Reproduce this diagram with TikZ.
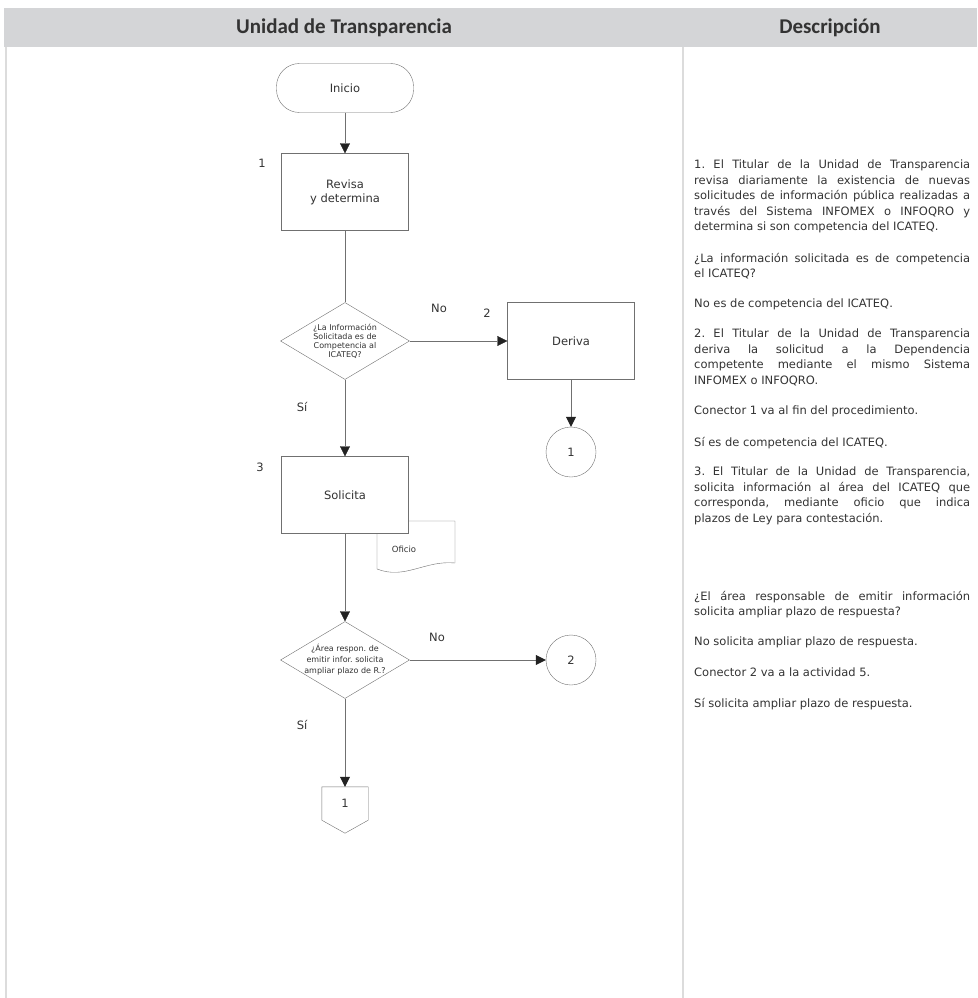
\documentclass[tikz,border=0pt]{standalone}
\usepackage{fontspec}
\setmainfont{DejaVu Sans}
\newfontfamily\headfont{Carlito}
\usetikzlibrary{shapes.geometric,arrows.meta,calc}
\frenchspacing
\definecolor{lineg}{HTML}{707070}
\definecolor{tipc}{HTML}{222222}
\definecolor{txt}{HTML}{333333}
\definecolor{hdr}{HTML}{D4D5D7}
\definecolor{rulec}{HTML}{DCDCDC}
\newcommand\procfont{\fontsize{11.5}{14}\selectfont}
\newcommand\decfont{\fontsize{8}{9}\selectfont}
\newcommand\descfont{\fontsize{11.5}{15.5}\selectfont\tolerance=10000\hyphenpenalty=10000\hbadness=10000}
\tikzset{
  head/.style={font=\headfont\bfseries\fontsize{21}{24}\selectfont, text=txt},
  proc/.style={draw=lineg, fill=white, minimum width=127pt, minimum height=77pt, align=center, font=\procfont, text=txt},
  term/.style={proc, rounded corners=23pt, minimum width=137pt, minimum height=49pt},
  dec/.style={diamond, draw=lineg, fill=white, minimum width=129pt, minimum height=77pt, inner sep=-8pt, shape aspect=1.675, align=center, font=\decfont, text=txt},
  conn/.style={circle, draw=lineg, minimum size=50pt, inner sep=0pt, font=\procfont, text=txt},
  num/.style={font=\procfont, text=txt},
  flow/.style={draw=lineg, -{Triangle[width=10pt,length=10pt,color=tipc]}},
  desc/.style={anchor=north west, inner sep=0pt, text width=276pt, align=justify, font=\descfont, text=txt},
}
\begin{document}
\begin{tikzpicture}[x=1pt,y=-1pt]
\useasboundingbox (0,0) rectangle (977,998);
% table
\fill[hdr] (4,8) rectangle (977,47);
\draw[rulec, line width=1.5pt] (6,47) -- (6,998);
\draw[rulec, line width=1.5pt] (683,47) -- (683,998);
\node[head] (hleft) at (344,28) {Unidad de Transparencia};
\node[head] (hright) at (830,28) {Descripción};

% flujo
\node[term] (inicio) at (345,88) {Inicio};
\node[proc] (revisa) at (345,192) {Revisa\\y determina};
\node[num] (n1) at (262,163) {1};
\node[dec] (dec1) at (345,341) {¿La Información\\Solicitada es de\\Competencia al\\ICATEQ?};
\node[proc] (deriva) at (571,341) {Deriva};
\node[num] (n2) at (487,313) {2};
\node[num] (no1) at (439,308) {No};
\node[conn] (c1) at (571,452) {1};
\node[num] (si1) at (302,407) {Sí};
\node[num] (n3) at (260,467) {3};
\draw[lineg, fill=white] (377,521) -- (455,521) -- (455,563) .. controls (425,560) and (405,580) .. (377,569) -- cycle;
\node[font=\fontsize{8.5}{10}\selectfont, text=txt] (oficio) at (404,549) {Oficio};
\node[proc] (solicita) at (345,495) {Solicita};
\node[dec, font=\fontsize{8}{11}\selectfont] (dec2) at (345,660) {¿Área respon. de\\emitir infor. solicita\\ampliar plazo de R.?};
\node[num] (no2) at (437,637) {No};
\node[conn] (c2) at (571,660) {2};
\node[num] (si2) at (302,725) {Sí};
\node[minimum width=46pt, minimum height=33pt, inner sep=0pt, font=\procfont, text=txt] (off1) at (345,803.5) {1};
\draw[lineg] (off1.north west) -- (off1.north east) -- (off1.south east) -- ($(off1.south)+(0,13)$) -- (off1.south west) -- cycle;

\draw[flow] (inicio) -- (revisa);
\draw[lineg] (revisa) -- (dec1);
\draw[flow] (dec1) -- (deriva);
\draw[flow] (deriva) -- (c1);
\draw[flow] (dec1) -- (solicita);
\draw[flow] (solicita) -- (dec2);
\draw[flow] (dec2) -- (c2);
\draw[flow] (dec2) -- (off1);

% descripcion
\node[desc] (d1) at (694,160) {1. El Titular de la Unidad de Transparencia\linebreak revisa diariamente la existencia de nuevas\linebreak solicitudes de información pública realizadas a\linebreak través del Sistema INFOMEX o INFOQRO y\linebreak determina si son competencia del ICATEQ.};
\node[desc] (d2) at (694,253) {¿La información solicitada es de competencia\linebreak el ICATEQ?};
\node[desc] (d3) at (694,299) {No es de competencia del ICATEQ.};
\node[desc] (d4) at (694,329) {2. El Titular de la Unidad de Transparencia\linebreak deriva la solicitud a la Dependencia\linebreak competente mediante el mismo Sistema\linebreak INFOMEX o INFOQRO.};
\node[desc] (d5) at (694,406) {Conector 1 va al fin del procedimiento.};
\node[desc] (d6) at (694,437) {Sí es de competencia del ICATEQ.};
\node[desc] (d7) at (694,467) {3. El Titular de la Unidad de Transparencia,\linebreak solicita información al área del ICATEQ que\linebreak corresponda, mediante oficio que indica\linebreak plazos de Ley para contestación.};
\node[desc] (d8) at (694,591) {¿El área responsable de emitir información\linebreak solicita ampliar plazo de respuesta?};
\node[desc] (d9) at (694,637) {No solicita ampliar plazo de respuesta.};
\node[desc] (d10) at (694,668) {Conector 2 va a la actividad 5.};
\node[desc] (d11) at (694,698) {Sí solicita ampliar plazo de respuesta.};
\end{tikzpicture}
\end{document}
